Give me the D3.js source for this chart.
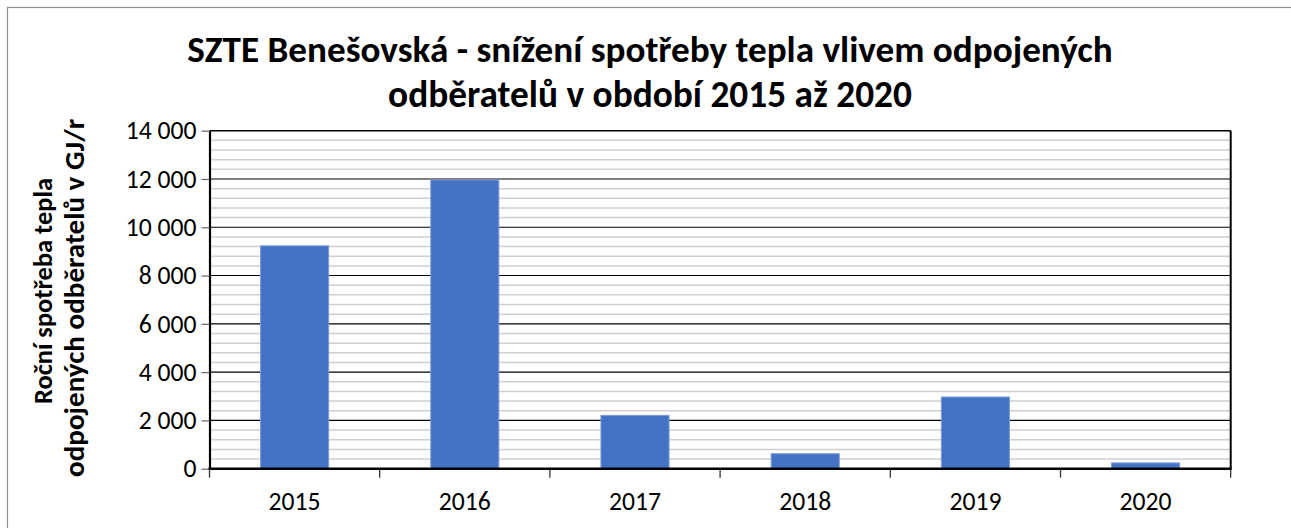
<!DOCTYPE html>
<html>
<head>
<meta charset="utf-8">
<script src="https://cdn.jsdelivr.net/npm/d3@7"></script>
<style>
  body { margin: 0; background: #fff; }
  svg { display: block; font-family: Carlito, Lato, "Open Sans", sans-serif; }
</style>
</head>
<body>
<svg id="chart"></svg>
<script>
const width = 1291;
const height = 528;

// data
const years = ["2015", "2016", "2017", "2018", "2019", "2020"];
const consumption = [9230, 11960, 2210, 620, 2970, 240];
const yTicks = [0, 2000, 4000, 6000, 8000, 10000, 12000, 14000];
const titleLines = ["SZTE Benešovská - snížení spotřeby tepla vlivem odpojených", "odběratelů v období 2015 až 2020"];
const yTitleLines = ["Roční spotřeba tepla", "odpojených odběratelů v GJ/r"];

const plot = { left: 209.5, right: 1230.7, top: 130.7, bottom: 468.7 };

const svg = d3.select("#chart").attr("width", width).attr("height", height);

svg.append("rect").attr("width", width).attr("height", height).attr("fill", "#fff");
// outer chart frame (runs off the right/bottom edge)
svg.append("rect")
    .attr("x", 7.5).attr("y", 7.5)
    .attr("width", 1400).attr("height", 700)
    .attr("fill", "none").attr("stroke", "#8e8e8e").attr("stroke-width", 1.2);

const x = d3.scaleBand()
    .domain(years)
    .range([plot.left, plot.right])
    .paddingInner(0.6)
    .paddingOuter(0.3);

const y = d3.scaleLinear()
    .domain([0, 14000])
    .range([plot.bottom, plot.top]);

function fitWidth(sel, target) {
    let size = null;
    sel.each(function () {
        const fs = parseFloat(this.getAttribute("font-size"));
        const w = this.getComputedTextLength();
        if (w > 0) {
            size = fs * target / w;
            this.setAttribute("font-size", size.toFixed(2));
        }
    });
    return size;
}

// label size so that "2015" is about as wide as in the picture
const probe = svg.append("text").attr("font-size", 20).text("2015");
const labelSize = fitWidth(probe, 52) || 20;
probe.remove();

//------------ grid ------------------------------------------------------//
const minor = d3.range(0, 14001, 400).filter(v => v % 2000 !== 0);
svg.append("g")
    .selectAll("line")
    .data(minor)
    .join("line")
    .attr("x1", plot.left).attr("x2", plot.right)
    .attr("y1", d => y(d)).attr("y2", d => y(d))
    .attr("stroke", "#cfcfcf").attr("stroke-width", 1.5);

svg.append("g")
    .selectAll("line")
    .data(yTicks.filter(v => v > 0))
    .join("line")
    .attr("x1", plot.left).attr("x2", plot.right)
    .attr("y1", d => y(d)).attr("y2", d => y(d))
    .attr("stroke", "#000").attr("stroke-width", d => d === 14000 ? 1.6 : 1.1);

// right frame of plot area
svg.append("line")
    .attr("x1", plot.right).attr("x2", plot.right)
    .attr("y1", plot.top).attr("y2", plot.bottom)
    .attr("stroke", "#000").attr("stroke-width", 2);

//------------ bars ------------------------------------------------------//
svg.append("g")
    .selectAll("rect")
    .data(years.map((yr, i) => ({ year: yr, value: consumption[i] })))
    .join("rect")
    .attr("x", d => x(d.year))
    .attr("width", x.bandwidth())
    .attr("y", d => y(d.value))
    .attr("height", d => y(0) - y(d.value))
    .attr("fill", "#4472c4")
    .attr("stroke", "#7c9cd7")
    .attr("stroke-width", 1);

//------------ axes ------------------------------------------------------//
const yAxis = svg.append("g")
    .attr("transform", `translate(${plot.left},0)`)
    .call(d3.axisLeft(y).tickValues(yTicks).tickSizeOuter(0).tickSizeInner(8).tickPadding(5)
        .tickFormat(d => d3.format(",")(d).replace(/,/g, " ")))
    .attr("font-family", null)
    .attr("font-size", null);
yAxis.select(".domain").attr("stroke", "#000").attr("stroke-width", 2.2);
yAxis.selectAll(".tick line").attr("stroke", "#666").attr("stroke-width", 1.2);
yAxis.selectAll(".tick text").attr("font-size", labelSize.toFixed(2)).attr("fill", "#000");

const step = x.step();
const bounds = d3.range(0, years.length + 1).map(i => plot.left + i * step);

svg.append("g")
    .selectAll("line")
    .data(bounds)
    .join("line")
    .attr("x1", d => d).attr("x2", d => d)
    .attr("y1", plot.bottom).attr("y2", plot.bottom + 9)
    .attr("stroke", "#333").attr("stroke-width", 1.3);

svg.append("line")
    .attr("x1", plot.left - 1).attr("x2", plot.right + 1)
    .attr("y1", plot.bottom).attr("y2", plot.bottom)
    .attr("stroke", "#000").attr("stroke-width", 2.4);

svg.append("g")
    .selectAll("text")
    .data(years)
    .join("text")
    .attr("x", d => x(d) + x.bandwidth() / 2)
    .attr("y", 510)
    .attr("text-anchor", "middle")
    .attr("font-size", labelSize.toFixed(2))
    .text(d => d);

//------------ titles ----------------------------------------------------//
const titleWidths = [926, 524];
const titleBase = [62, 107];
titleLines.forEach((t, i) => {
    const el = svg.append("text")
        .attr("x", 650)
        .attr("y", titleBase[i])
        .attr("text-anchor", "middle")
        .attr("font-weight", "bold")
        .attr("font-size", 31)
        .text(t);
    fitWidth(el, titleWidths[i]);
});

const yTitleWidths = [226, 358];
const yTitleX = [52, 84];
yTitleLines.forEach((t, i) => {
    const el = svg.append("text")
        .attr("transform", `translate(${yTitleX[i]},${i === 0 ? 291 : 298}) rotate(-90)`)
        .attr("text-anchor", "middle")
        .attr("font-weight", "bold")
        .attr("font-size", 20)
        .text(t);
    fitWidth(el, yTitleWidths[i]);
});
</script>
</body>
</html>
